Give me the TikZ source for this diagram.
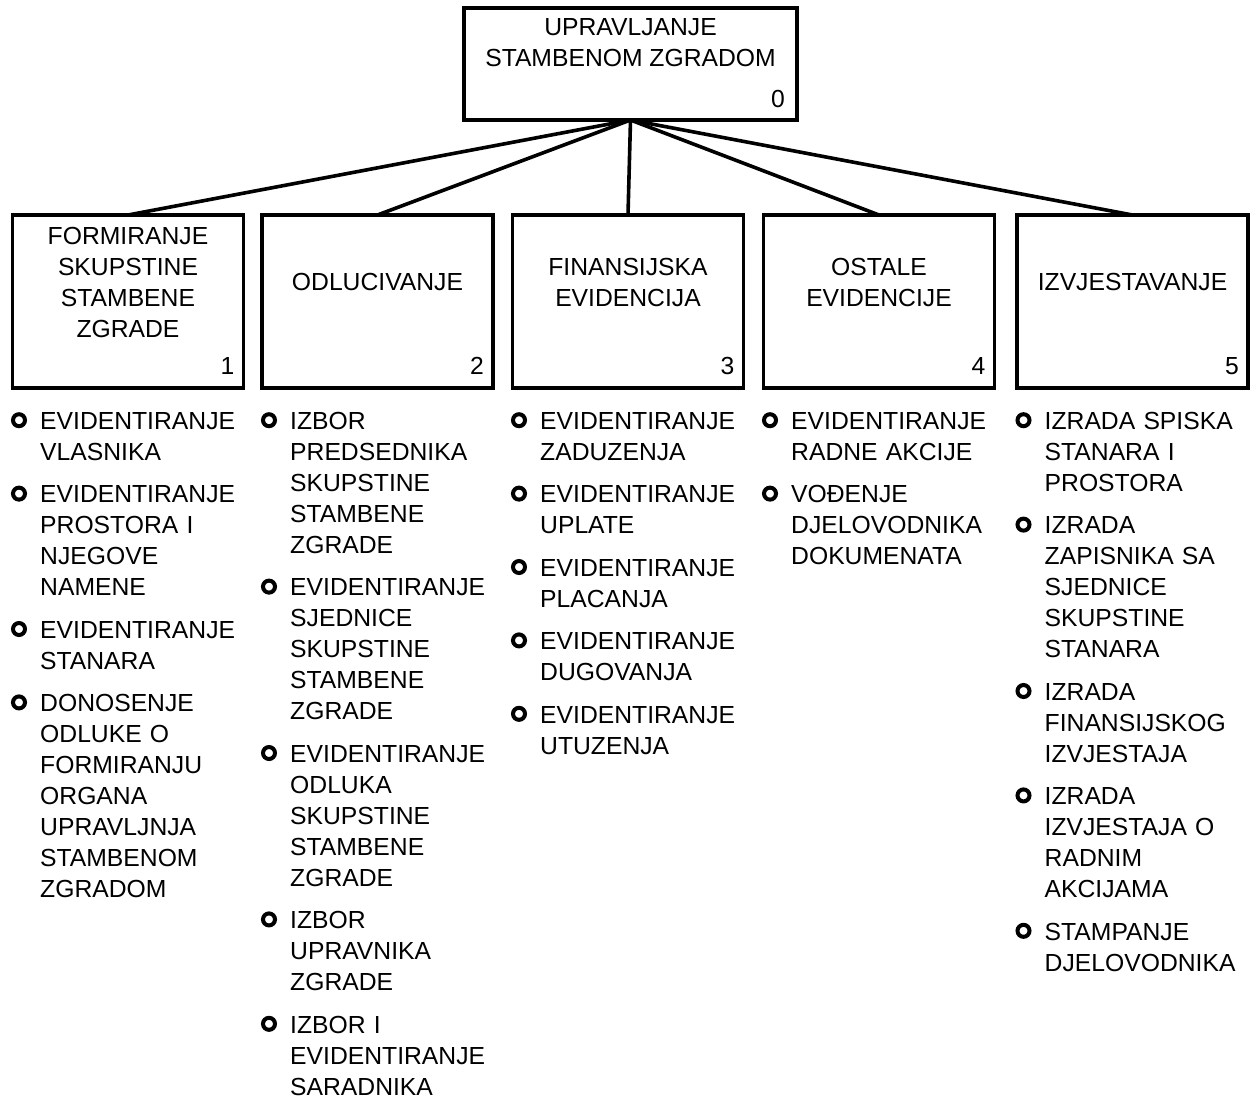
\documentclass[tikz,border=0pt]{standalone}
\usepackage{fontspec}
\setmainfont{Liberation Sans}
\usetikzlibrary{positioning}

\begin{document}
\begin{tikzpicture}[x=1pt,y=-1pt,
				every node/.style={font=\fontsize{24.7pt}{31pt}\selectfont},
				box/.style={draw,rectangle,line width=3.6pt,outer sep=0pt,minimum width=231pt,minimum height=173pt},
				title/.style={align=center,inner sep=0pt},
				num/.style={inner sep=0pt,anchor=base east},
				task/.style={text width=205pt,align=left,inner sep=0pt,node distance=11pt,
					execute at begin node=\strut,execute at end node=\strut},
				link/.style={line width=3.6pt},
				ring/.style={line width=4pt}]
				\useasboundingbox (0,0) rectangle (1258,1104);
				% boxes
				\node (N0) [box,minimum width=333pt,minimum height=112pt] at (630.5,64) {};
				\node (N1)     [box] at (128,301.5)   {};
				\node (N2)     [box] at (377.5,301.5) {};
				\node (N3)     [box] at (628,301.5)   {};
				\node (N4)     [box] at (879,301.5)   {};
				\node (N5)     [box] at (1132.5,301.5){};
				\node (T0)     [title] at ([yshift=21.5pt]N0.center) {UPRAVLJANJE\\STAMBENOM ZGRADOM};
				\node (T1)     [title] at ([yshift=19.5pt]N1.center) {FORMIRANJE\\SKUPSTINE\\STAMBENE\\ZGRADE};
				\node (T2)     [title] at ([yshift=19.5pt]N2.center) {ODLUCIVANJE};
				\node (T3)     [title] at ([yshift=19.5pt]N3.center) {FINANSIJSKA\\EVIDENCIJA};
				\node (T4)     [title] at ([yshift=19.5pt]N4.center) {OSTALE\\EVIDENCIJE};
				\node (T5)     [title] at ([yshift=19.5pt]N5.center) {IZVJESTAVANJE};
				\node (K0)     [num] at ([xshift=-12pt,yshift=13pt]N0.south east) {0};
				\foreach \i in {1,...,5}
					\node (K\i) [num] at ([xshift=-9pt,yshift=13.7pt]N\i.south east) {\i};
				
				\foreach \i in {1,...,5}
					\draw[link] (N0.south) -- (N\i.north);
				
				% lists
				\node (L1a) [task,below right=19.5pt and 27.5pt of N1.south west] {EVIDENTIRANJE\\VLASNIKA};
				\node (L1b) [task,below=of L1a] {EVIDENTIRANJE\\PROSTORA I\\NJEGOVE\\NAMENE};
				\node (L1c) [task,below=of L1b] {EVIDENTIRANJE\\STANARA};
				\node (L1d) [task,below=of L1c] {DONOSENJE\\ODLUKE O\\FORMIRANJU\\ORGANA\\UPRAVLJNJA\\STAMBENOM\\ZGRADOM};
				
				\node (L2a) [task,below right=19.5pt and 28pt of N2.south west] {IZBOR\\PREDSEDNIKA\\SKUPSTINE\\STAMBENE\\ZGRADE};
				\node (L2b) [task,below=of L2a] {EVIDENTIRANJE\\SJEDNICE\\SKUPSTINE\\STAMBENE\\ZGRADE};
				\node (L2c) [task,below=of L2b] {EVIDENTIRANJE\\ODLUKA\\SKUPSTINE\\STAMBENE\\ZGRADE};
				\node (L2d) [task,below=of L2c] {IZBOR\\UPRAVNIKA\\ZGRADE};
				\node (L2e) [task,below=of L2d] {IZBOR I\\EVIDENTIRANJE\\SARADNIKA};
				
				\node (L3a) [task,below right=19.5pt and 27.5pt of N3.south west] {EVIDENTIRANJE\\ZADUZENJA};
				\node (L3b) [task,below=of L3a] {EVIDENTIRANJE\\UPLATE};
				\node (L3c) [task,below=of L3b] {EVIDENTIRANJE\\PLACANJA};
				\node (L3d) [task,below=of L3c] {EVIDENTIRANJE\\DUGOVANJA};
				\node (L3e) [task,below=of L3d] {EVIDENTIRANJE\\UTUZENJA};
				
				\node (L4a) [task,below right=19.5pt and 27.5pt of N4.south west] {EVIDENTIRANJE\\RADNE AKCIJE};
				\node (L4b) [task,below=of L4a] {VOĐENJE\\DJELOVODNIKA\\DOKUMENATA};
				
				\node (L5a) [task,below right=19.5pt and 27.5pt of N5.south west] {IZRADA SPISKA\\STANARA I\\PROSTORA};
				\node (L5b) [task,below=of L5a] {IZRADA\\ZAPISNIKA SA\\SJEDNICE\\SKUPSTINE\\STANARA};
				\node (L5c) [task,below=of L5b] {IZRADA\\FINANSIJSKOG\\IZVJESTAJA};
				\node (L5d) [task,below=of L5c] {IZRADA\\IZVJESTAJA O\\RADNIM\\AKCIJAMA};
				\node (L5e) [task,below=of L5d] {STAMPANJE\\DJELOVODNIKA};
				
				% bullets
				\foreach \n in {L1a,L1b,L1c,L1d,L2a,L2b,L2c,L2d,L2e,L3a,L3b,L3c,L3d,L3e,L4a,L4b,L5a,L5b,L5c,L5d,L5e}
					\draw[ring] ([xshift=-21pt,yshift=-12.7pt]\n.north west) circle [radius=6pt];
			\end{tikzpicture}
\end{document}
